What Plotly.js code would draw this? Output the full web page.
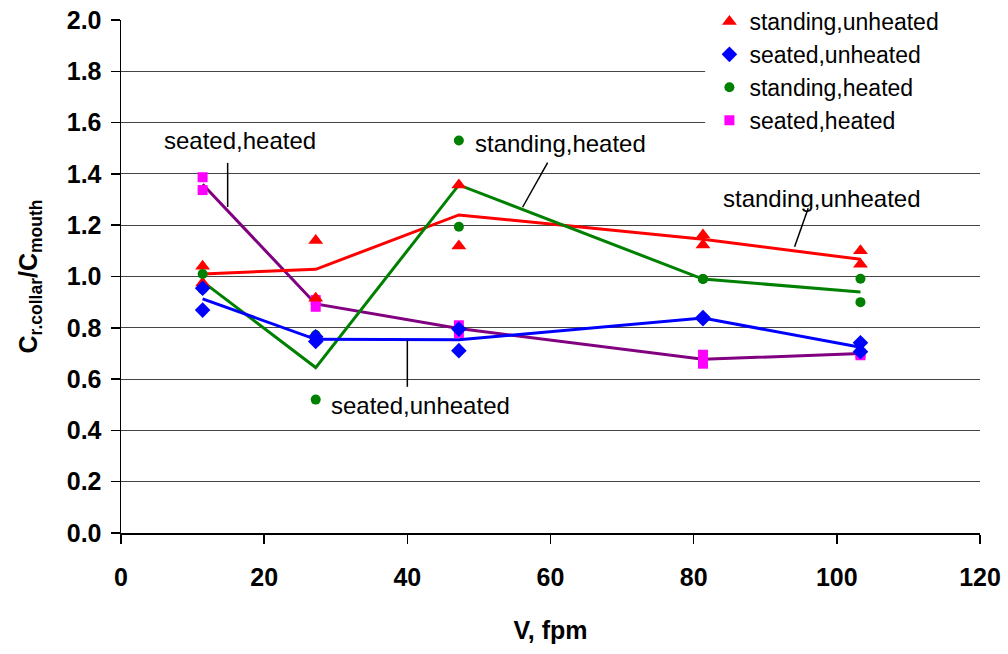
<!DOCTYPE html>
<html>
<head>
<meta charset="utf-8">
<script src="https://cdn.plot.ly/plotly-3.0.1.min.js"></script>
<style>html,body{margin:0;padding:0;background:#fff;}#chart{width:1008px;height:654px;}</style>
</head>
<body>
<div id="chart"></div>
<script>
// Air velocity (fpm)
var velocity = [11.4, 27.2, 47.2, 81.3, 103.3];

var standingUnheatedRun1 = [1.040, 1.140, 1.357, 1.162, 1.100];
var standingUnheatedRun2 = [0.975, 0.915, 1.119, 1.123, 1.048];
var standingUnheatedLine = [1.010, 1.028, 1.240, 1.145, 1.067];

var seatedUnheatedRun1 = [0.954, 0.765, 0.795, 0.840, 0.742];
var seatedUnheatedRun2 = [0.869, 0.747, 0.711, 0.835, 0.707];
var seatedUnheatedLine = [0.913, 0.755, 0.753, 0.838, 0.724];

var standingHeatedRun1 = [1.010, 0.772, 1.530, 0.990, 0.991];
var standingHeatedRun2 = [0.950, 0.520, 1.194, 0.990, 0.900];
var standingHeatedLine = [0.980, 0.645, 1.357, 0.990, 0.940];

var seatedHeatedRun1 = [1.387, 0.908, 0.810, 0.695, 0.700];
var seatedHeatedRun2 = [1.337, 0.882, 0.780, 0.660, 0.693];
var seatedHeatedLine = [1.360, 0.893, 0.797, 0.677, 0.700];

var xTicks = [0, 20, 40, 60, 80, 100, 120];
var yTicks = [0, 0.2, 0.4, 0.6, 0.8, 1.0, 1.2, 1.4, 1.6, 1.8, 2.0];

var FONT = 'Arial, "Liberation Sans", sans-serif';

function both(a, b) { return a.concat(b); }
var vv = both(velocity, velocity);

function lineTrace(y, color) {
  return {x: velocity, y: y, mode: 'lines', type: 'scatter', showlegend: false,
          hoverinfo: 'skip', line: {color: color, width: 3}};
}
function markTrace(name, y, color, symbol, size, rank) {
  return {x: vv, y: y, mode: 'markers', type: 'scatter', name: name, legendrank: rank,
          marker: {color: color, symbol: symbol, size: size}};
}

var data = [
  lineTrace(seatedHeatedLine, '#800080'),
  lineTrace(standingUnheatedLine, '#FF0000'),
  lineTrace(standingHeatedLine, '#008000'),
  lineTrace(seatedUnheatedLine, '#0000FF'),
  markTrace('seated,heated', both(seatedHeatedRun1, seatedHeatedRun2), '#FF00FF', 'square', 10, 4),
  markTrace('standing,unheated', both(standingUnheatedRun1, standingUnheatedRun2), '#FF0000', 'triangle-up', 13, 1),
  markTrace('standing,heated', both(standingHeatedRun1, standingHeatedRun2), '#008000', 'circle', 10, 3),
  markTrace('seated,unheated', both(seatedUnheatedRun1, seatedUnheatedRun2), '#0000FF', 'diamond', 12, 2)
];

function label(text, x, y) {
  return {text: text, x: x, y: y, xref: 'x', yref: 'y', showarrow: false,
          font: {family: FONT, size: 24, color: '#000'}};
}
function leader(x0, y0, x1, y1) {
  return {type: 'line', xref: 'x', yref: 'y', x0: x0, y0: y0, x1: x1, y1: y1,
          line: {color: '#000', width: 1.5}};
}

var layout = {
  width: 1008, height: 654,
  margin: {l: 121, r: 28, t: 20, b: 121, autoexpand: false},
  paper_bgcolor: '#fff', plot_bgcolor: '#fff',
  font: {family: FONT, color: '#000'},
  showlegend: true,
  legend: {x: 0.685, xanchor: 'left', xref: 'paper', y: 1.019, yanchor: 'top', yref: 'container',
           bgcolor: '#fff', font: {family: FONT, size: 23, color: '#000'}, tracegroupgap: 0},
  xaxis: {range: [0, 120], tickvals: xTicks, ticktext: xTicks.map(String),
          showgrid: false, zeroline: false, showline: true, linecolor: '#000', linewidth: 1.5,
          ticks: 'outside', ticklen: 9, tickcolor: '#000', tickwidth: 1.5,
          ticklabelstandoff: 12,
          tickfont: {family: FONT, size: 25, color: '#000', weight: 'bold'},
          title: {text: '<b>V, fpm</b>', font: {family: FONT, size: 25, color: '#000'}, standoff: 32}},
  yaxis: {range: [0, 2.0], tickvals: yTicks, ticktext: yTicks.map(function(v){return v.toFixed(1);}),
          showgrid: true, gridcolor: '#444', gridwidth: 1, zeroline: false,
          showline: true, linecolor: '#000', linewidth: 1.5,
          ticks: 'outside', ticklen: 9, tickcolor: '#000', tickwidth: 1.5,
          ticklabelstandoff: 4,
          tickfont: {family: FONT, size: 25, color: '#000', weight: 'bold'},
          title: {text: '<b>C<sub>r.collar</sub>/C<sub>mouth</sub></b>', font: {family: FONT, size: 25, color: '#000'}, standoff: 22}},
  annotations: [
    label('seated,heated', 16.6, 1.532),
    label('standing,heated', 61.4, 1.517),
    label('standing,unheated', 97.9, 1.306),
    label('seated,unheated', 41.9, 0.499)
  ],
  shapes: [
    {type: 'rect', xref: 'paper', yref: 'paper', x0: 0.68, x1: 1.0, y0: 0.79, y1: 1.0,
     fillcolor: '#fff', line: {width: 0}, layer: 'above'},
    leader(14.9, 1.443, 14.9, 1.271),
    leader(59.6, 1.444, 56.1, 1.270),
    leader(96.0, 1.266, 94.1, 1.116),
    leader(40.0, 0.752, 40.0, 0.570)
  ]
};

Plotly.newPlot('chart', data, layout, {displayModeBar: false, staticPlot: true});
</script>
</body>
</html>
